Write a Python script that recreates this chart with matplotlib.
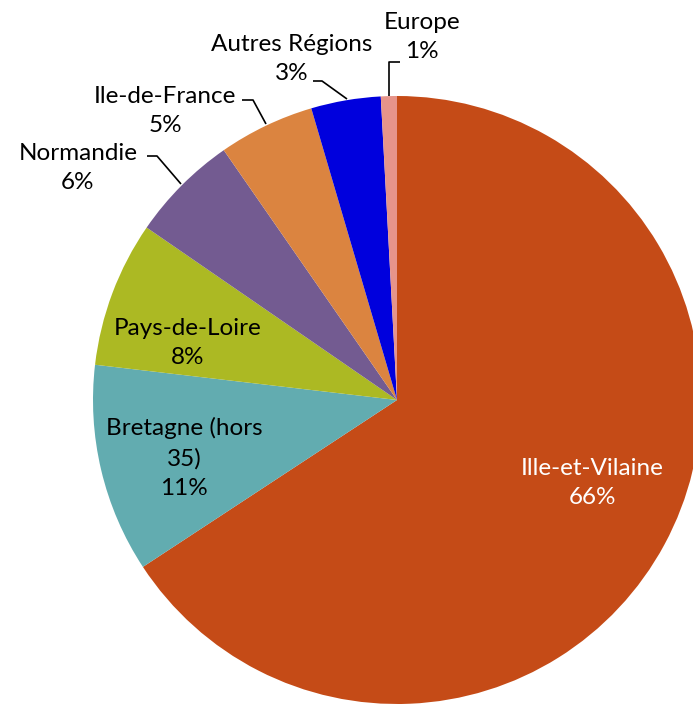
import matplotlib.pyplot as plt

# slice shares (%), clockwise from 12 o'clock
regions = ['Ille-et-Vilaine', 'Bretagne (hors\n35)', 'Pays-de-Loire', 'Normandie',
           'Ile-de-France', 'Autres Régions', 'Europe']
shares = [65.75, 11.1, 7.75, 5.75, 5.1, 3.7, 0.85]
pct_labels = ['66%', '11%', '8%', '6%', '5%', '3%', '1%']
colors = ['#C54B17', '#62ACB0', '#ACB923', '#735B91', '#DB8440', '#0000DD', '#E6948A']

plt.rcParams['font.family'] = ['Lato', 'DejaVu Sans']

W, H = 693, 704
fig = plt.figure(figsize=(W / 100, H / 100), dpi=100)
ax = fig.add_axes([0, 0, 1, 1])

cx, cy, r = 397, H - 400, 304
ax.pie(shares, colors=colors, startangle=90, counterclock=False,
       center=(cx, cy), radius=r, frame=True,
       wedgeprops=dict(linewidth=0))
ax.set_xlim(0, W)
ax.set_ylim(0, H)
ax.set_aspect('equal')
ax.axis('off')

# label positions in pixel coords (x, y from top)
label_pos = [(592, 483), (184, 458), (188, 343), (78, 168), (165, 111), (292, 59), (422, 37)]
text_colors = ['white', 'black', 'black', 'black', 'black', 'black', 'black']
for name, pct, (x, y), tc in zip(regions, pct_labels, label_pos, text_colors):
    ax.text(x, H - y, f'{name}\n{pct}', ha='center', va='center', fontsize=17.5,
            color=tc, linespacing=1.5)

# leader lines for the outside labels
leaders = [
    [(147, 156), (157, 156), (181, 184)],
    [(242, 100), (253, 100), (266, 124)],
    [(313, 81), (322, 81), (347, 99)],
    [(400, 62), (389, 62), (389, 96)],
]
for pts in leaders:
    xs = [p[0] for p in pts]
    ys = [H - p[1] for p in pts]
    ax.plot(xs, ys, color='black', linewidth=1.2, solid_capstyle='butt')

fig.savefig('out.png', dpi=100)
